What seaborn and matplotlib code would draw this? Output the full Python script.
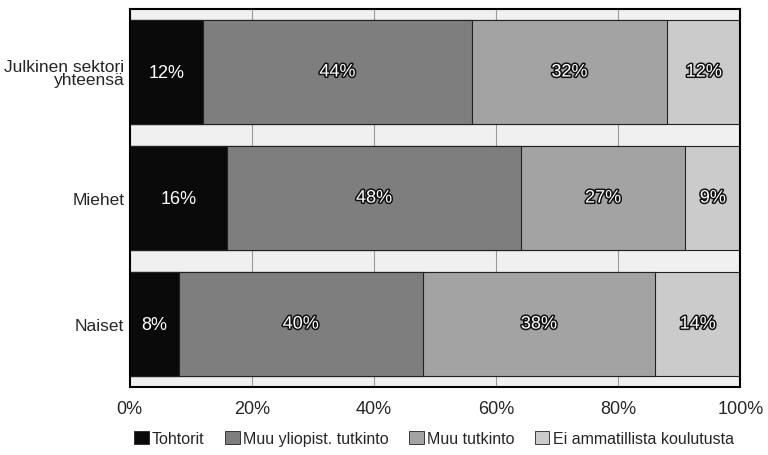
import numpy as np
import pandas as pd
import matplotlib
matplotlib.use("Agg")
import matplotlib.pyplot as plt
import matplotlib.patheffects as pe
from matplotlib.patches import Patch
import seaborn as sns

# data
categories = ["Julkinen sektori\nyhteensä", "Miehet", "Naiset"]
series = ["Tohtorit", "Muu yliopist. tutkinto", "Muu tutkinto", "Ei ammatillista koulutusta"]
tohtorit = [12, 16, 8]
muu_yliopist = [44, 48, 40]
muu_tutkinto = [32, 27, 38]
ei_ammatillista = [12, 9, 14]
colors = ["#0a0a0a", "#7e7e7e", "#a3a3a3", "#cbcbcb"]

sns.set_theme(style="white")
plt.rcParams["font.family"] = ["Liberation Sans Narrow", "Liberation Sans", "DejaVu Sans"]

values = [tohtorit, muu_yliopist, muu_tutkinto, ei_ammatillista]
cum = np.cumsum(np.array(values), axis=0)
df = pd.DataFrame({"cat": categories})
for i, s in enumerate(series):
    df[s] = cum[i]

fig = plt.figure(figsize=(7.68, 4.56), dpi=100)
ax = fig.add_axes([0.169, 0.149, 0.795, 0.829])
ax.set_facecolor("#f0f0f0")

for x in [20, 40, 60, 80]:
    ax.axvline(x, color="#9a9a9a", lw=0.8, zorder=0)

# overlay cumulative bars, widest first
for i in reversed(range(len(series))):
    sns.barplot(data=df, x=series[i], y="cat", orient="h", color=colors[i],
                width=0.83, edgecolor="#222222", linewidth=0.8, saturation=1,
                ax=ax, zorder=2)

# segment labels
for j in range(len(categories)):
    left = 0
    for i in range(len(series)):
        v = values[i][j]
        t = ax.text(left + v / 2, j, f"{v}%", ha="center", va="center",
                    color="white", fontsize=13, zorder=5)
        if i > 0:
            t.set_path_effects([pe.withStroke(linewidth=2.2, foreground="#111111")])
        left += v

ax.set_xlim(0, 100)
ax.set_ylim(2.5, -0.5)
ax.set_xticks([0, 20, 40, 60, 80, 100])
ax.set_xticklabels([f"{x}%" for x in [0, 20, 40, 60, 80, 100]], fontsize=13)
ax.tick_params(axis="y", labelsize=12.5, length=0, pad=4)
ax.tick_params(axis="x", length=0, pad=9)
ax.set_xlabel("")
ax.set_ylabel("")
for yl in ax.get_yticklabels():
    yl.set_linespacing(0.85)
for sp in ax.spines.values():
    sp.set_color("black")
    sp.set_linewidth(1.5)

handles = [Patch(facecolor=c, edgecolor="#222222", lw=0.6) for c in colors]
fig.legend(handles, series, loc="lower center", bbox_to_anchor=(0.565, -0.012),
           ncol=4, frameon=False, fontsize=11.5, handlelength=0.9, handleheight=0.8,
           handletextpad=0.2, columnspacing=1.3)

fig.savefig("out.png", dpi=100)
